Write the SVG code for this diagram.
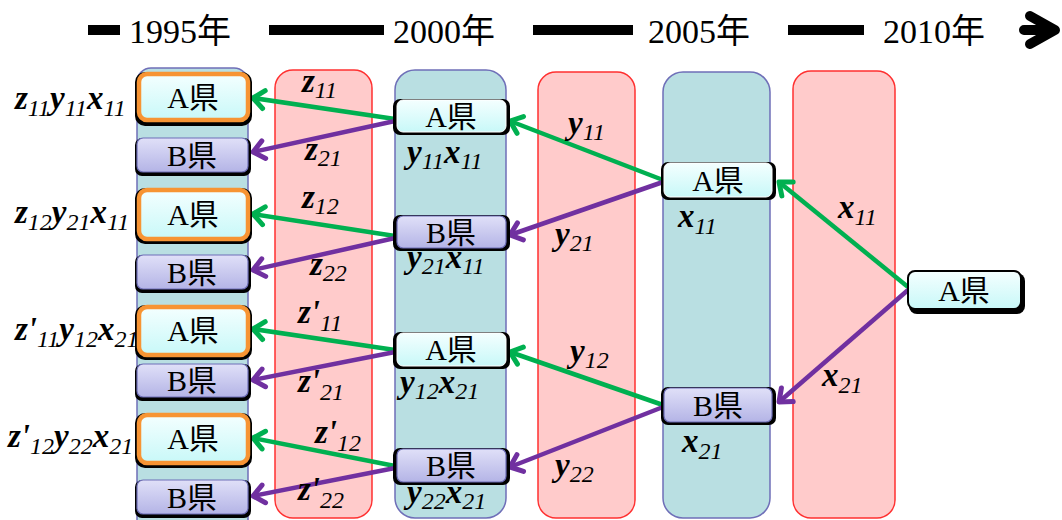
<svg xmlns="http://www.w3.org/2000/svg" width="1062" height="520" viewBox="0 0 1062 520">
  <defs>
    <linearGradient id="gCyan" x1="0" y1="0" x2="0" y2="1">
      <stop offset="0" stop-color="#F4FFFF"/>
      <stop offset="1" stop-color="#C8F8F8"/>
    </linearGradient>
    <linearGradient id="gLav" x1="0" y1="0" x2="0" y2="1">
      <stop offset="0" stop-color="#E0E0F8"/>
      <stop offset="1" stop-color="#B4B4E6"/>
    </linearGradient>
    <marker id="mG" viewBox="-16 -12 20 24" refX="0" refY="0" markerWidth="20" markerHeight="24" markerUnits="userSpaceOnUse" orient="auto" overflow="visible">
      <path d="M -11 -9 L 0 0 L -11 9" fill="none" stroke="#00B050" stroke-width="5" stroke-linecap="round" stroke-linejoin="round"/>
    </marker>
    <marker id="mP" viewBox="-16 -12 20 24" refX="0" refY="0" markerWidth="20" markerHeight="24" markerUnits="userSpaceOnUse" orient="auto" overflow="visible">
      <path d="M -11 -9 L 0 0 L -11 9" fill="none" stroke="#7030A0" stroke-width="5" stroke-linecap="round" stroke-linejoin="round"/>
    </marker>
  </defs>
  <style>
    .year { font-family: 'Liberation Serif', 'DejaVu Serif', 'Noto Sans CJK JP', serif; font-size: 34px; fill: #000; }
    .bar { stroke: #000; stroke-width: 10; }
    .teal { fill: #B9DFE2; stroke: #6F6FB8; stroke-width: 1.5; }
    .red { fill: #FFCBCB; stroke: #FF3030; stroke-width: 1.5; }
    .shadow { fill: #000; }
    .nA { fill: url(#gCyan); stroke: #FFFFFF; stroke-width: 1; }
    .nAo { fill: url(#gCyan); stroke: #F79433; stroke-width: 4.5; }
    .nB { fill: url(#gLav); stroke: #6F6FB8; stroke-width: 1.2; }
    .nF { fill: url(#gCyan); stroke: #000; stroke-width: 2; }
    .lbl { font-family: 'Liberation Serif', 'DejaVu Serif', 'Noto Sans CJK JP', serif; font-size: 30px; fill: #000; text-anchor: middle; }
    .m { font-family: 'Liberation Serif', 'DejaVu Serif', serif; font-style: italic; font-weight: bold; font-size: 33px; fill: #000; }
    .s { font-weight: normal; font-size: 24px; }
    .g { fill: none; stroke: #00B050; stroke-width: 4.5; marker-end: url(#mG); }
    .p { fill: none; stroke: #7030A0; stroke-width: 4.5; marker-end: url(#mP); }
  </style>

  <!-- time axis -->
  <g id="timeline">
    <line class="bar" x1="88" y1="30" x2="120" y2="30"/>
    <text class="year" x="129" y="43" font-family="Liberation Serif, Noto Sans CJK JP, serif">1995年</text>
    <line class="bar" x1="269" y1="30" x2="384" y2="30"/>
    <text class="year" x="393" y="43" font-family="Liberation Serif, Noto Sans CJK JP, serif">2000年</text>
    <line class="bar" x1="533" y1="30" x2="633" y2="30"/>
    <text class="year" x="648" y="43" font-family="Liberation Serif, Noto Sans CJK JP, serif">2005年</text>
    <line class="bar" x1="788" y1="30" x2="864" y2="30"/>
    <text class="year" x="883" y="43" font-family="Liberation Serif, Noto Sans CJK JP, serif">2010年</text>
    <path d="M 1024 30 L 1046 30 M 1030 16 L 1055 30 L 1030 44" fill="none" stroke="#000" stroke-width="10" stroke-linecap="round" stroke-linejoin="round"/>
  </g>

  <!-- period columns -->
  <g id="columns">
    <rect class="teal" x="137" y="68" width="111" height="470" rx="14"/>
    <rect class="red" x="275" y="70" width="97" height="448" rx="18"/>
    <rect class="teal" x="395" y="70" width="111" height="448" rx="20"/>
    <rect class="red" x="538" y="72" width="97" height="446" rx="18"/>
    <rect class="teal" x="663" y="72" width="107" height="446" rx="20"/>
    <rect class="red" x="793" y="71" width="102" height="447" rx="18"/>
  </g>

  <!-- connectors -->
  <g id="connectors">
    <line class="g" x1="908" y1="287" x2="779" y2="182"/>
    <line class="p" x1="908" y1="290" x2="779" y2="402"/>
    <line class="g" x1="663" y1="180" x2="510" y2="121"/>
    <line class="p" x1="663" y1="182" x2="510" y2="235"/>
    <line class="g" x1="663" y1="405" x2="510" y2="352"/>
    <line class="p" x1="663" y1="407" x2="510" y2="467"/>
    <line class="g" x1="395" y1="119" x2="253" y2="98"/>
    <line class="p" x1="395" y1="121" x2="253" y2="152"/>
    <line class="g" x1="395" y1="236" x2="253" y2="214"/>
    <line class="p" x1="395" y1="238" x2="253" y2="270"/>
    <line class="g" x1="395" y1="350" x2="253" y2="329"/>
    <line class="p" x1="395" y1="352" x2="253" y2="380"/>
    <line class="g" x1="395" y1="466" x2="253" y2="438"/>
    <line class="p" x1="395" y1="468" x2="253" y2="496"/>
  </g>

  <!-- 1995 nodes -->
  <g id="n1995-A1">
    <rect class="shadow" x="135" y="72" width="117" height="54" rx="10"/>
    <rect class="nAo" x="139" y="74" width="109" height="46" rx="8"/>
    <text class="lbl" x="193" y="108">A県</text>
  </g>
  <g id="n1995-B1">
    <rect class="shadow" x="135" y="138" width="116" height="38" rx="7"/>
    <rect class="nB" x="137" y="138" width="111" height="34" rx="6"/>
    <text class="lbl" x="192" y="166">B県</text>
  </g>
  <g id="n1995-A2">
    <rect class="shadow" x="135" y="188" width="117" height="56" rx="10"/>
    <rect class="nAo" x="139" y="190" width="109" height="49" rx="8"/>
    <text class="lbl" x="193" y="225">A県</text>
  </g>
  <g id="n1995-B2">
    <rect class="shadow" x="135" y="255" width="116" height="38" rx="7"/>
    <rect class="nB" x="137" y="255" width="111" height="34" rx="6"/>
    <text class="lbl" x="192" y="283">B県</text>
  </g>
  <g id="n1995-A3">
    <rect class="shadow" x="135" y="305" width="117" height="55" rx="10"/>
    <rect class="nAo" x="139" y="307" width="109" height="48" rx="8"/>
    <text class="lbl" x="193" y="341">A県</text>
  </g>
  <g id="n1995-B3">
    <rect class="shadow" x="135" y="364" width="116" height="37" rx="7"/>
    <rect class="nB" x="137" y="364" width="111" height="33" rx="6"/>
    <text class="lbl" x="192" y="391">B県</text>
  </g>
  <g id="n1995-A4">
    <rect class="shadow" x="135" y="413" width="117" height="55" rx="10"/>
    <rect class="nAo" x="139" y="415" width="109" height="48" rx="8"/>
    <text class="lbl" x="193" y="449">A県</text>
  </g>
  <g id="n1995-B4">
    <rect class="shadow" x="135" y="480" width="116" height="38" rx="7"/>
    <rect class="nB" x="137" y="480" width="111" height="34" rx="6"/>
    <text class="lbl" x="192" y="508">B県</text>
  </g>

  <!-- 2000 nodes -->
  <g id="n2000-A1">
    <rect class="shadow" x="393" y="99" width="117" height="36" rx="7"/>
    <rect class="nA" x="397" y="100" width="109" height="32" rx="6"/>
    <text class="lbl" x="451" y="127">A県</text>
  </g>
  <g id="n2000-B1">
    <rect class="shadow" x="393" y="215" width="117" height="36" rx="7"/>
    <rect class="nB" x="397" y="216" width="109" height="32" rx="6"/>
    <text class="lbl" x="451" y="243">B県</text>
  </g>
  <g id="n2000-A2">
    <rect class="shadow" x="393" y="332" width="117" height="37" rx="7"/>
    <rect class="nA" x="397" y="333" width="109" height="33" rx="6"/>
    <text class="lbl" x="451" y="360">A県</text>
  </g>
  <g id="n2000-B2">
    <rect class="shadow" x="393" y="448" width="117" height="37" rx="7"/>
    <rect class="nB" x="397" y="449" width="109" height="33" rx="6"/>
    <text class="lbl" x="451" y="476">B県</text>
  </g>

  <!-- 2005 nodes -->
  <g id="n2005-A">
    <rect class="shadow" x="661" y="162" width="115" height="38" rx="7"/>
    <rect class="nA" x="664" y="163" width="108" height="34" rx="6"/>
    <text class="lbl" x="718" y="191">A県</text>
  </g>
  <g id="n2005-B">
    <rect class="shadow" x="661" y="387" width="115" height="38" rx="7"/>
    <rect class="nB" x="664" y="388" width="108" height="34" rx="6"/>
    <text class="lbl" x="718" y="416">B県</text>
  </g>

  <!-- 2010 node -->
  <g id="n2010-A">
    <rect class="shadow" x="909" y="273" width="116" height="41" rx="8"/>
    <rect class="nF" x="908" y="271" width="113" height="38" rx="7"/>
    <text class="lbl" x="964" y="301">A県</text>
  </g>

  <!-- flow labels -->
  <g id="flow-labels">
    <text class="m" x="302" y="92">z<tspan class="s" dy="6">11</tspan></text>
    <text class="m" x="305" y="160">z<tspan class="s" dy="6">21</tspan></text>
    <text class="m" x="302" y="208">z<tspan class="s" dy="6">12</tspan></text>
    <text class="m" x="310" y="275">z<tspan class="s" dy="6">22</tspan></text>
    <text class="m" x="298" y="323">z'<tspan class="s" dy="8">11</tspan></text>
    <text class="m" x="298" y="392">z'<tspan class="s" dy="8">21</tspan></text>
    <text class="m" x="315" y="443">z'<tspan class="s" dy="8">12</tspan></text>
    <text class="m" x="298" y="500">z'<tspan class="s" dy="8">22</tspan></text>

    <text class="m" x="407" y="163">y<tspan class="s" dy="6">11</tspan><tspan dy="-6">x</tspan><tspan class="s" dy="6">11</tspan></text>
    <text class="m" x="407" y="268">y<tspan class="s" dy="6">21</tspan><tspan dy="-6">x</tspan><tspan class="s" dy="6">11</tspan></text>
    <text class="m" x="400" y="393">y<tspan class="s" dy="6">12</tspan><tspan dy="-6">x</tspan><tspan class="s" dy="6">21</tspan></text>
    <text class="m" x="407" y="503">y<tspan class="s" dy="6">22</tspan><tspan dy="-6">x</tspan><tspan class="s" dy="6">21</tspan></text>

    <text class="m" x="568" y="134">y<tspan class="s" dy="6">11</tspan></text>
    <text class="m" x="555" y="245">y<tspan class="s" dy="6">21</tspan></text>
    <text class="m" x="570" y="362">y<tspan class="s" dy="6">12</tspan></text>
    <text class="m" x="555" y="476">y<tspan class="s" dy="6">22</tspan></text>

    <text class="m" x="678" y="227">x<tspan class="s" dy="7">11</tspan></text>
    <text class="m" x="682" y="452">x<tspan class="s" dy="7">21</tspan></text>
    <text class="m" x="838" y="218">x<tspan class="s" dy="7">11</tspan></text>
    <text class="m" x="822" y="386">x<tspan class="s" dy="7">21</tspan></text>
  </g>

  <!-- path products -->
  <g id="path-labels">
    <text class="m" x="15" y="109">z<tspan class="s" dy="7">11</tspan><tspan dy="-7">y</tspan><tspan class="s" dy="7">11</tspan><tspan dy="-7">x</tspan><tspan class="s" dy="7">11</tspan></text>
    <text class="m" x="15" y="223">z<tspan class="s" dy="7">12</tspan><tspan dy="-7">y</tspan><tspan class="s" dy="7">21</tspan><tspan dy="-7">x</tspan><tspan class="s" dy="7">11</tspan></text>
    <text class="m" x="15" y="340">z'<tspan class="s" dy="7">11</tspan><tspan dy="-7">y</tspan><tspan class="s" dy="7">12</tspan><tspan dy="-7">x</tspan><tspan class="s" dy="7">21</tspan></text>
    <text class="m" x="8" y="447">z'<tspan class="s" dy="7">12</tspan><tspan dy="-7">y</tspan><tspan class="s" dy="7">22</tspan><tspan dy="-7">x</tspan><tspan class="s" dy="7">21</tspan></text>
  </g>
</svg>
